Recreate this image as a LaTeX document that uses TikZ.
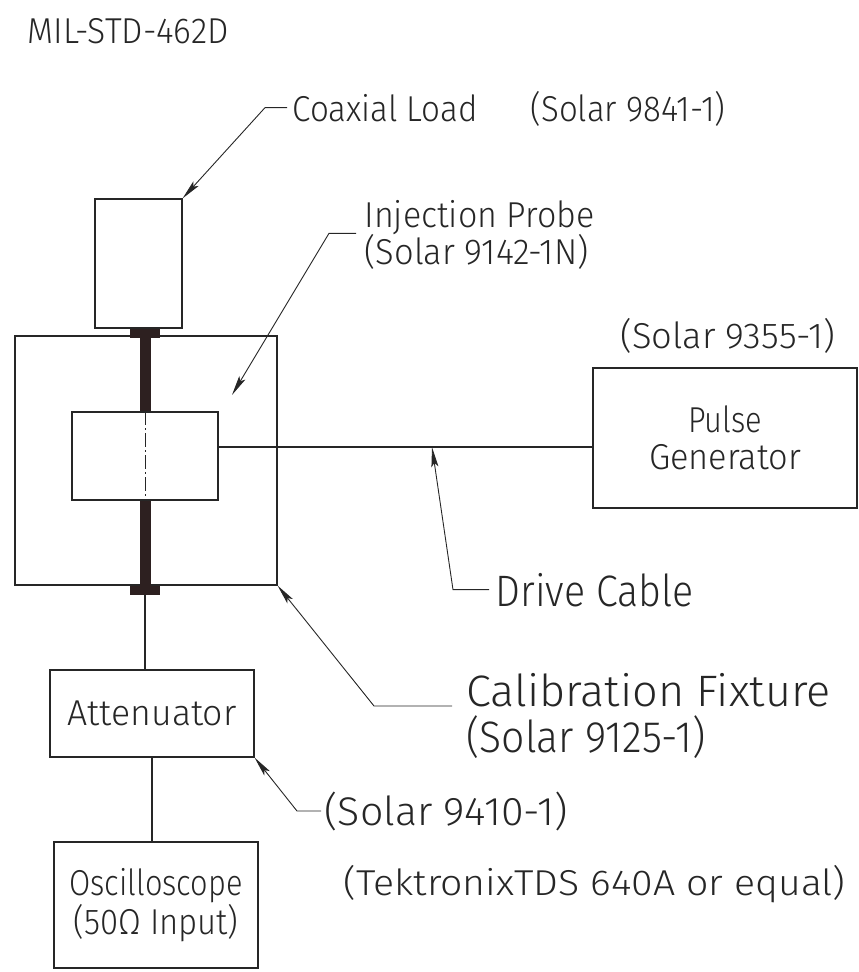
\documentclass[tikz,border=0pt]{standalone}
\usepackage{fontspec}
\setmainfont{Fira Sans Light}
\usetikzlibrary{arrows.meta,positioning,calc}
\definecolor{barbrown}{RGB}{45,32,32}
% set a label to the width it has in the drawing
\newcommand{\cadw}[2]{\resizebox{#1pt}{\height}{#2}}

\begin{document}
\begin{tikzpicture}[x=1pt,y=-1pt,line width=1.1pt,color=black!85,
  box/.style={shape=rectangle,draw,inner sep=0pt,align=center,font=\fontsize{36}{37}\selectfont},
  lbl/.style={anchor=base west,inner sep=0pt,font=\fontsize{36}{37}\selectfont},
  midlbl/.style={lbl,font=\fontsize{40}{42}\selectfont},
  biglbl/.style={lbl,font=\fontsize{44}{46}\selectfont},
  lead/.style={line width=0.9pt,-{Stealth[length=20pt,width=7pt,inset=4pt]}},
  bar/.style={fill=barbrown}]
\useasboundingbox (0,0) rectangle (859,972);

\node[lbl] (title) at (27,43) {\cadw{201}{MIL-STD-462D}};

% boxes
\node[box,minimum width=87,minimum height=129] (L) at (138.5,263.5) {};
\node[box,minimum width=262,minimum height=249] (F) at (146,460.5) {};
\node[box,minimum width=146,minimum height=88] (P) at (145,456) {};
\node[box,minimum width=264,minimum height=140] (G) at (725,438) {\cadw{74}{Pulse}\\\cadw{152}{Generator}};
\node[box,minimum width=204,minimum height=87] (A) at (152,713.5) {\cadw{169}{Attenuator}};
\node[box,minimum width=204,minimum height=126] (O) at (156,905) {\cadw{173}{Oscilloscope}\\\cadw{165}{(50Ω Input)}};

% coaxial connector through the probe
\coordinate (bt) at (P.north |- L.south);
\coordinate (bb) at (P.south |- F.south);
\fill[bar] ($(bt)+(-15,0)$) rectangle ($(bt)+(15,9)$);
\fill[bar] ($(bt)+(-5.5,9)$) rectangle ($(P.north)+(5.5,0)$);
\fill[bar] ($(P.south)+(-5.5,0)$) rectangle ($(bb)+(5.5,0)$);
\fill[bar] ($(bb)+(-15,0)$) rectangle ($(bb)+(15,9)$);
\draw[line width=0.8pt,dash pattern=on 14pt off 3pt on 2pt off 3pt] (P.north) -- (P.south);

% cables
\coordinate (cab) at (0,447);
\draw (P.east |- cab) -- (G.west |- cab);
\draw ($(bb)+(0,9)$) -- (bb |- A.north);
\draw (A.south) -- (A.south |- O.north);

% labels and leaders
\node[lbl] (coax) at (292,121) {\cadw{185}{Coaxial Load}};
\node[lbl] (coaxno) at (530,121) {\cadw{195}{(Solar 9841-1)}};
\draw[lead] ($(coax.west)+(-5,0)$) -- ++(-22,0) -- (L.north east);

\node[lbl] (inj) at (364,227) {\cadw{230}{Injection Probe}};
\node[lbl] (injno) at (364,264) {\cadw{224}{(Solar 9142-1N)}};
\coordinate (injtip) at (232,395);
\draw[lead] ($(injno.north west)+(-8,0)$) -- ++(-27,0) -- (injtip);

\node[lbl,anchor=base] (gno) at (728,348) {\cadw{215}{(Solar 9355-1)}};

\node[biglbl] (drv) at (495,606) {\cadw{198}{Drive Cable}};
\coordinate (drvtip) at (432,447);
\draw[lead] ($(drv.west)+(-6,0)$) -- ++(-36,0) -- (drvtip);

\node[biglbl] (cal) at (466,706) {\cadw{364}{Calibration Fixture}};
\node[biglbl] (calno) at (466,752) {\cadw{239}{(Solar 9125-1)}};
\draw[lead] ($(cal.base west)+(-14,0)$) -- ++(-78,0) -- (F.south east);

\node[midlbl] (attno) at (324,825) {\cadw{243}{(Solar 9410-1)}};
\draw[lead] ($(attno.west)+(-3,0)$) -- ++(-24,0) -- (A.south east);

\node[lbl] (scopeno) at (343,895) {\cadw{502}{(TektronixTDS 640A or equal)}};
\end{tikzpicture}
\end{document}
